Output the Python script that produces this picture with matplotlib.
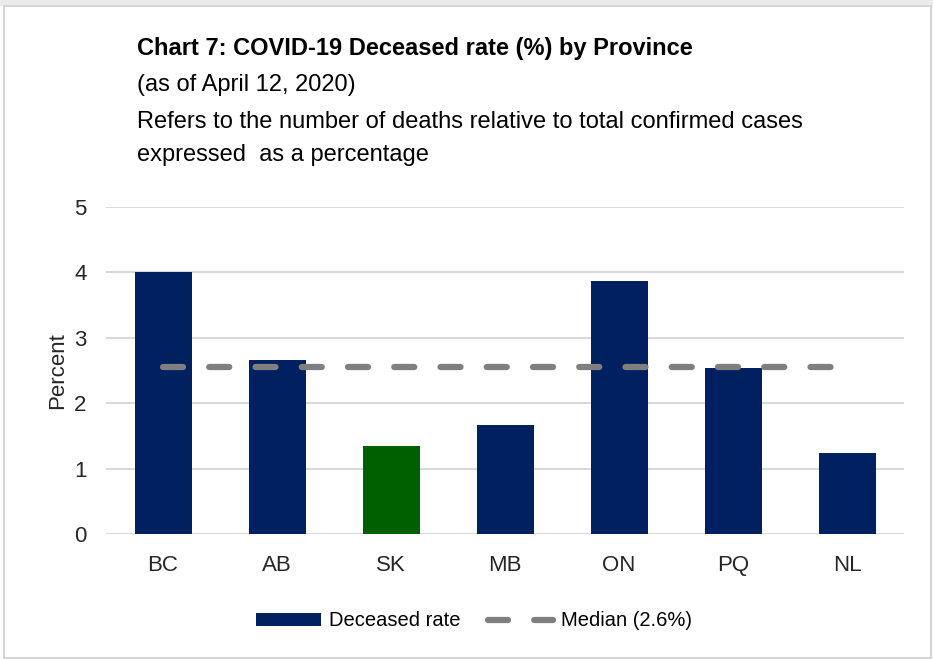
import matplotlib
matplotlib.use("Agg")
import matplotlib.pyplot as plt
from matplotlib.patches import Patch, Rectangle
from matplotlib.lines import Line2D

provinces = ["BC", "AB", "SK", "MB", "ON", "PQ", "NL"]
deceased_rate = [4.01, 2.66, 1.34, 1.67, 3.87, 2.54, 1.24]
bar_colors = ["#002060", "#002060", "#006000", "#002060", "#002060", "#002060", "#002060"]
median_value = 2.55
yticks = [0, 1, 2, 3, 4, 5]

title = "Chart 7: COVID-19 Deceased rate (%) by Province"
subtitle_lines = ["(as of April 12, 2020)",
                  "Refers to the number of deaths relative to total confirmed cases",
                  "expressed  as a percentage"]

plt.rcParams['font.family'] = ['Liberation Sans Narrow', 'Liberation Sans', 'DejaVu Sans']
W, H = 933, 660
fig = plt.figure(figsize=(W / 100, H / 100), dpi=100)

# frame like the screenshot
fig.patches.append(Rectangle((0, 1 - 6 / H), 1, 6 / H, transform=fig.transFigure,
                             facecolor="#ebebeb", edgecolor="none", zorder=0))
fig.patches.append(Rectangle((4 / W, 2 / H), 1 - 6 / W, 1 - 8 / H, transform=fig.transFigure,
                             facecolor="none", edgecolor="#d6d6d6", lw=1.5, zorder=1))

ax = fig.add_axes([106 / W, 1 - 534 / H, 798 / W, 327 / H])
x = range(len(provinces))
ax.bar(x, deceased_rate, width=0.5, color=bar_colors, zorder=3)
ax.plot([0, len(provinces) - 1], [median_value, median_value], color="#7f7f7f",
        lw=4.5, linestyle=(0, (3.2, 4.2)), dash_capstyle="round", zorder=4)

ax.set_xlim(-0.5, len(provinces) - 0.5)
ax.set_ylim(0, 5)
ax.set_yticks(yticks)
ax.set_xticks(list(x))
ax.set_xticklabels(provinces)
ax.grid(axis="y", color="#d9d9d9", lw=1.5, zorder=0)
for s in ax.spines.values():
    s.set_visible(False)
ax.tick_params(length=0, labelsize=16, colors="#262626", pad=15)
ax.tick_params(axis="y", pad=14)
ax.set_ylabel("Percent", fontsize=16, color="#262626", labelpad=4)

fig.text(137 / W, 1 - 55 / H, title, fontsize=17, fontweight="bold", va="baseline")
for yy, line in zip([91, 128, 161], subtitle_lines):
    fig.text(137 / W, 1 - yy / H, line, fontsize=17, va="baseline")

handles = [Patch(facecolor="#002060", edgecolor="none"),
           Line2D([0], [0], color="#7f7f7f", lw=4.5, linestyle=(0, (3.2, 4.2)),
                  dash_capstyle="round")]
fig.legend(handles, ["Deceased rate", "Median (2.6%)"], loc="center",
           bbox_to_anchor=(474 / W, 1 - 621 / H), ncol=2, frameon=False,
           fontsize=14.5, handlelength=3.2, handleheight=0.6, columnspacing=1.4,
           handletextpad=0.4)

fig.savefig("out.png", dpi=100)
